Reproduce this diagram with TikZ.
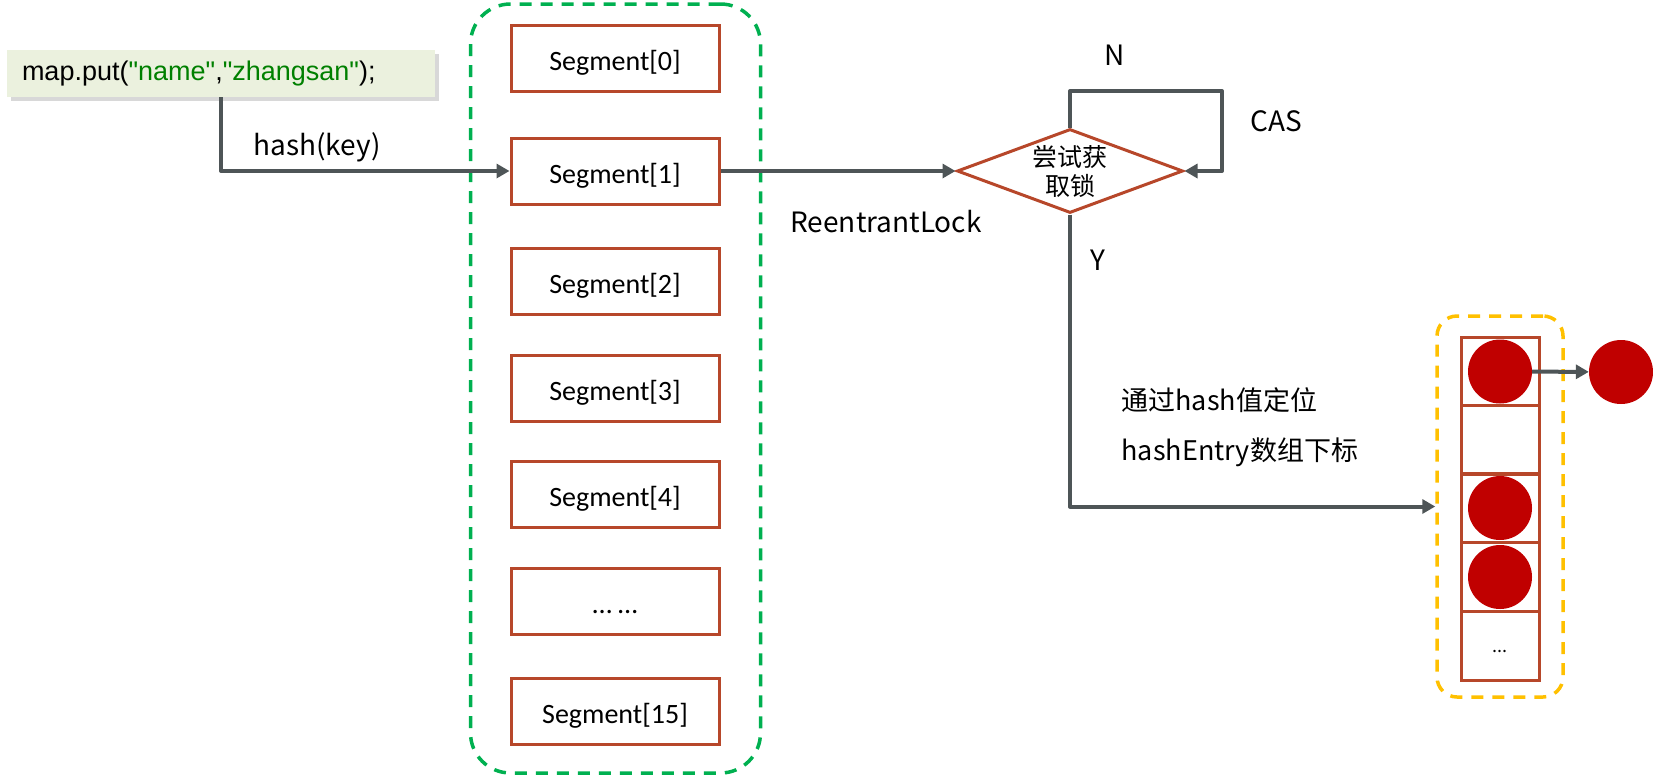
\documentclass[tikz,border=0pt]{standalone}
\usepackage{fontspec}
\setmainfont{Noto Sans CJK SC}
\newfontfamily\segfont{Carlito}
\newfontfamily\codefont{Liberation Sans}
\usetikzlibrary{positioning,arrows.meta,shapes.geometric,shadows}
\definecolor{segred}{RGB}{183,71,42}
\definecolor{linegray}{RGB}{78,85,87}
\definecolor{entryred}{RGB}{192,0,0}
\definecolor{tablegreen}{RGB}{0,176,80}
\definecolor{bucketyellow}{RGB}{255,192,0}
\definecolor{codebg}{RGB}{235,241,222}
\definecolor{codegreen}{RGB}{0,128,0}

\begin{document}
\begin{tikzpicture}[
  x=1pt, y=-1pt,
  >={Triangle[length=13pt,width=14pt]},
  every node/.style={font=\fontsize{28}{32}\selectfont},
  conn/.style={->,line width=4pt,draw=linegray,line join=round},
  segbox/.style={draw=segred,line width=3pt,minimum width=208pt,minimum height=66pt,
    inner sep=0pt,text height=24pt,text depth=0pt,font=\segfont\fontsize{28}{32}\selectfont},
  cell/.style={draw=segred,line width=3pt,minimum width=78pt,minimum height=68.5pt,inner sep=0pt},
  entry/.style={circle,fill=entryred,minimum size=64pt,inner sep=0pt},
  group/.style={dash pattern=on 12pt off 9pt,line width=3.5pt,inner sep=0pt}
]
\useasboundingbox (0,0) rectangle (1653,777);

% 调用 put
\node[fill=codebg,drop shadow={shadow xshift=4pt,shadow yshift=-4pt,fill=black!30},
  minimum height=47pt,text width=398pt,inner xsep=15pt,inner ysep=0pt,align=left,
  font=\codefont\fontsize{27}{32}\selectfont] (put) at (221,73.5)
  {map.put(\textcolor{codegreen}{"name"},\textcolor{codegreen}{"zhangsan"});};

% Segment 数组
\node[group,draw=tablegreen,rounded corners=40pt,minimum width=290pt,minimum height=769pt]
  (segtable) at (615.5,388.5) {};
\foreach \n/\y/\t in {0/58.5/{Segment[0]},1/171/{Segment[1]},2/281.5/{Segment[2]},
    3/388/{Segment[3]},4/494.5/{Segment[4]},dots/601/{\dots\ \dots},15/711.5/{Segment[15]}}
  \node[segbox] (seg\n) at (615,\y) {\t};

\draw[conn] (put.south) |- (seg1.west);
\node (hashkey) at (317,147) {hash(key)};

% 加锁
\node[diamond,draw=segred,line width=3pt,shape aspect=2.7,inner sep=0pt,
  minimum width=226pt,minimum height=84pt,align=center,
  font=\fontsize{25}{29}\selectfont] (lock) at (1070,171) {尝试获\\取锁};
\draw[conn] (seg1.east) -- (lock.west);
\node (rlock) at (886,222) {ReentrantLock};

\coordinate (castop) at (1222,91);
\draw[conn] (lock.north) |- (castop) |- (lock.east);
\node (no) at (1115,55) {N};
\node (cas) at (1276,121) {CAS};

% HashEntry 数组
\node[group,draw=bucketyellow,rounded corners=20pt,minimum width=126pt,minimum height=381pt]
  (bucket) at (1500,506.5) {};
\foreach \k/\y in {0/371.5,1/440,2/508,3/577}
  \node[cell] (e\k) at (1500,\y) {};
\node[cell,text height=12pt,text depth=0pt,font=\fontsize{18}{20}\selectfont] (e4) at (1500,646) {...};
\node[entry] (c0) at (e0) {};
\node[entry] (c2) at (e2) {};
\node[entry] (c3) at (e3) {};
\node[entry] (next) at (1621,372) {};
\draw[conn] (c0) -- (next);

\draw[conn] (lock.south) |- (bucket.west);
\node (yes) at (1098,260) {Y};
\node[anchor=west,align=left,font=\fontsize{27}{50}\selectfont] (note) at (1118,427)
  {通过hash值定位\\hashEntry数组下标};
\end{tikzpicture}
\end{document}
